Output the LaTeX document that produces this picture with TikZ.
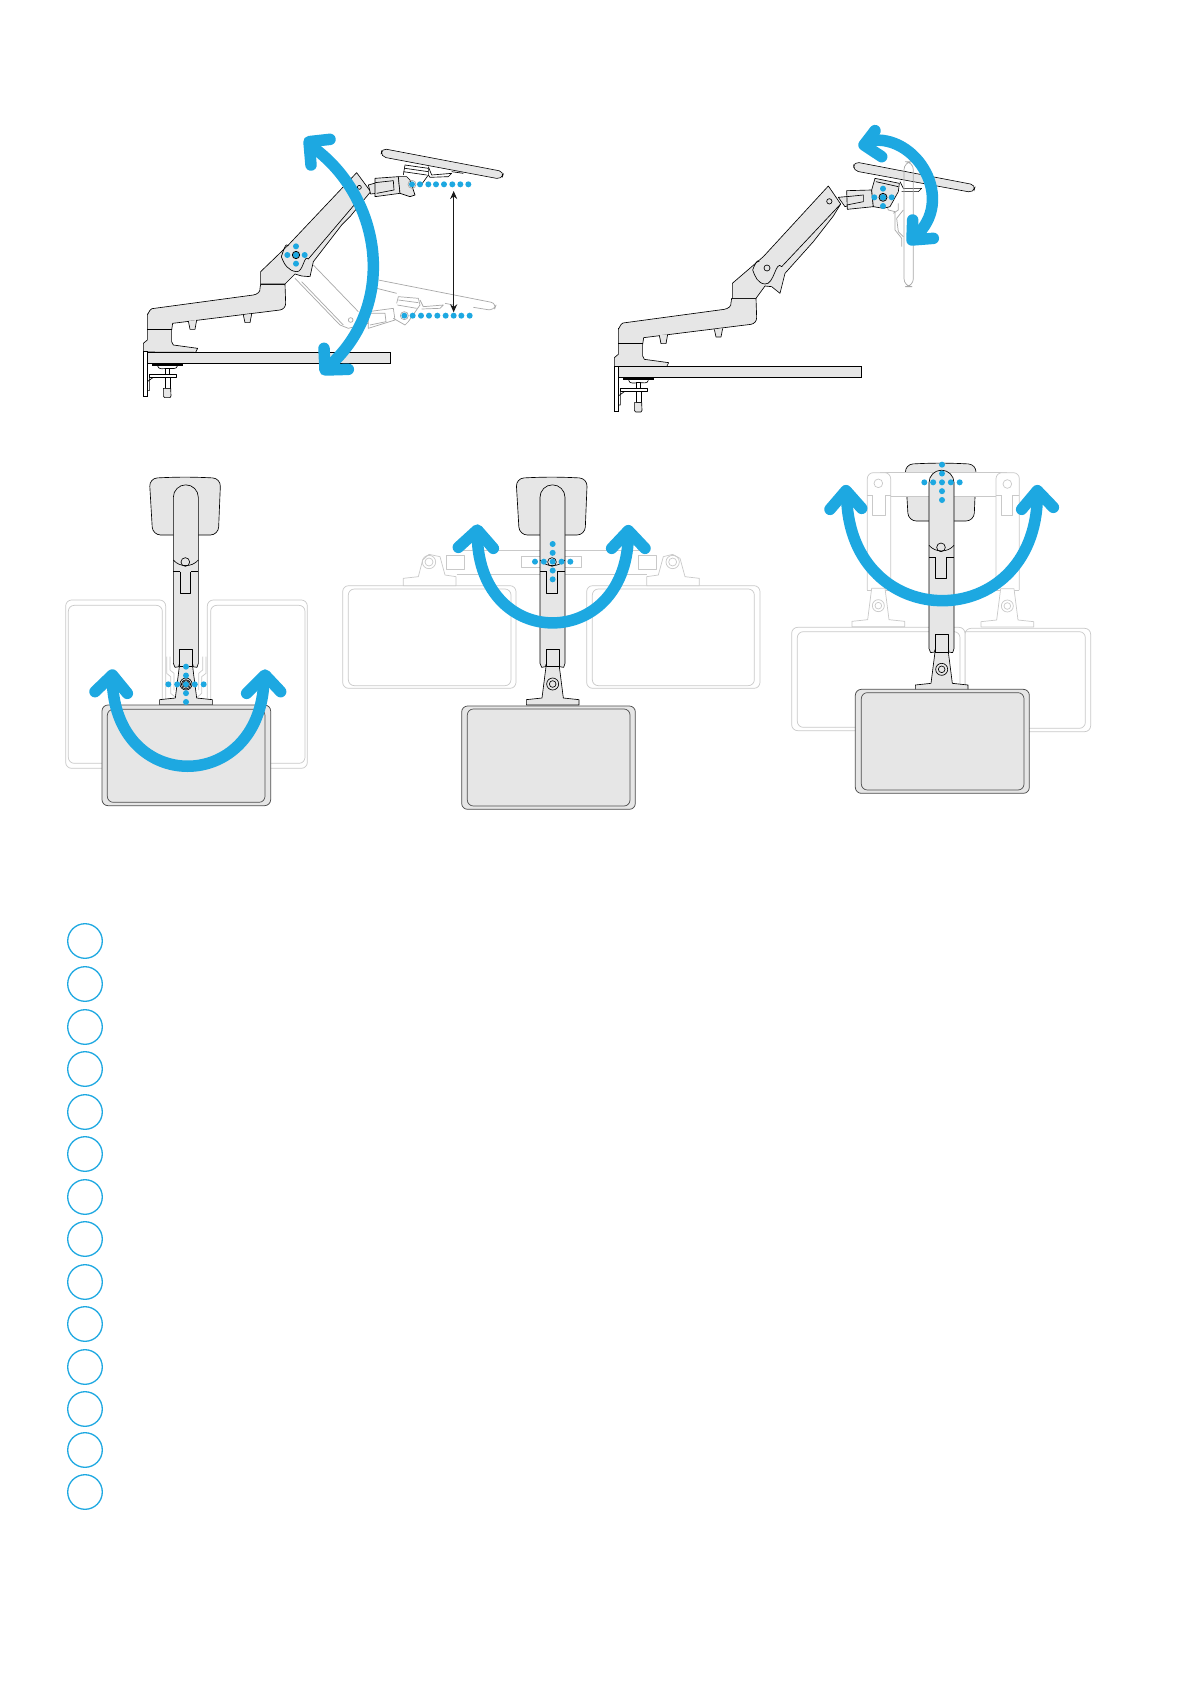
\documentclass[tikz,border=0pt]{standalone}
\usetikzlibrary{arrows.meta}
\definecolor{bluec}{HTML}{1DA8E1}
\definecolor{armg}{HTML}{E6E6E6}
\definecolor{ghostc}{HTML}{C9C9C9}
\definecolor{ghostd}{HTML}{A8A8A8}
\definecolor{monl}{HTML}{4D4D4D}
\newcommand{\crossdots}[3]{% cx cy step
  \foreach \k in {-1,1}{\fill[bluec] (#1+\k*#3,#2) circle[radius=9];\fill[bluec] (#1,#2+\k*#3) circle[radius=9];}
  \fill[bluec] (#1,#2) circle[radius=10];}
\newcommand{\bigcross}[3]{% five by five
  \foreach \k in {-2,-1,1,2}{\fill[bluec] (#1+\k*#3,#2) circle[radius=9];\fill[bluec] (#1,#2+\k*#3) circle[radius=9];}
  \fill[bluec] (#1,#2) circle[radius=9];}
\tikzset{
  ln/.style={draw=black,fill=armg,line width=.65pt,line join=round},
  lo/.style={draw=black,line width=.65pt,line join=round},
  mono/.style={draw=monl,fill=armg,line width=.75pt,rounded corners=6pt},
  ghost/.style={draw=ghostc,fill=white,line width=.7pt,line join=round},
  ghl/.style={draw=ghostc,line width=.7pt,line join=round},
  ghd/.style={draw=ghostd,line width=.7pt,line join=round},
  ghm/.style={draw=ghostc,fill=white,line width=.7pt,rounded corners=6pt},
  zz/.style={x=.33333pt,y=-.33333pt},
  bluearrow/.style={draw=bluec,line width=11.5pt,line cap=round,line join=round},
  ring/.style={draw=bluec,line width=1.3pt},
  sidebase/.pic={
    \path[ln] (70,726)--(70,700)--(82,690)--(82,612) to[out=-90,in=190] (96,596)--(400,555) to[out=10,in=-80] (420,535)--(422,522)--(495,522)--(497,580) to[out=-90,in=10] (480,600)--(158,640)--(155,660)--(155,695)--(160,705)--(233,715)--(227,727)--cycle;
    \draw[lo] (82,658)--(155,658);
    \draw[line width=1pt] (422,522)--(495,522);
    \path[ln] (205,633)--(210,658)--(225,658)--(230,630);
    \path[ln] (370,615)--(375,638)--(390,638)--(395,612);
    \path[draw=black,fill=armg,line width=.9pt] (82,727) rectangle (810,760);
    \path[draw=black,fill=white,line width=.8pt] (70,725) rectangle (82,860);
    \fill[black] (95,761) rectangle (188,768);
    \draw[lo] (113,768) to[out=-80,in=180] (145,775) to[out=0,in=-100] (172,768);
    \path[ln,fill=white] (135,775) rectangle (148,792);
    \path[ln,fill=white] (88,792) rectangle (170,802);
    \draw[lo] (88,802)--(88,842)--(82,842) (82,815)--(100,802);
    \path[ln,fill=white] (135,802) rectangle (150,835);
    \path[ln] (130,835)--(152,835)--(153,858)--(150,863)--(134,863)--(130,858)--cycle;
  },
  plate/.pic={
    \path[ln,rounded corners=8pt] (-110,-617) to[bend left=3] (104,-617)--(97,-447)--(-100,-447)--cycle;
  },
  armunit/.pic={
    \path[ln] (-38,-62)--(-38,-560) arc[start angle=180,end angle=360,radius=37.5]--(37,-62)--(33,-50)--(21,-52)--(21,-58)--(-21,-58)--(-21,-52)--(-33,-50)--cycle;
    \draw[lo] (-38,-372) to[out=-50,in=-130] (37,-372);
    \draw[lo] (-18,-337)--(-18,-272)--(14,-272)--(14,-337);
    \draw[lo] (-38,-337)--(-18,-337) (14,-337)--(37,-337);
    \draw[lo] (-2,-366) circle[radius=13];
  },
  bracketunit/.pic={
    \path[ln] (-79,63)--(-79,47)--(-32,42)--(-20,-52)--(20,-52)--(32,42)--(79,47)--(79,63)--cycle;
    \path[ln] (-20,-105) rectangle (20,-52);
    \draw[lo] (0,0) circle[radius=18];
    \draw[lo] (0,0) circle[radius=10];
  },
  ghostbracket/.pic={
    \path[ghost] (-79,63)--(-79,47)--(-32,42)--(-20,-52)--(20,-52)--(32,42)--(79,47)--(79,63)--cycle;
    \draw[ghl] (0,0) circle[radius=18];
    \draw[ghl] (0,0) circle[radius=10];
  }
}
\begin{document}
\begin{tikzpicture}[x=1pt,y=-1pt]
\useasboundingbox (0,0) rectangle (1190,1684);
\fill[white] (0,0) rectangle (1190,1684);

% ---- side view 1 ----
\begin{scope}[shift={(120,110)},zz]
  % ghost position
  \draw[ghd] (580,465)--(715,605);
  \draw[ghd] (525,505)--(660,645)--(685,655)--(745,640);
  \draw[ghd] (545,515)--(670,645);
  \draw[ghd] (692,630) circle[radius=7];
  \draw[ghd,rounded corners=6pt] (775,510)--(1130,580)--(1122,602)--(1060,592);
  \draw[ghd] (770,535)--(830,550);
  \draw[ghd] (745,605)--(820,595)--(825,630)--(745,655)--cycle;
  \draw[ghd] (745,610)--(795,610)--(798,635)--(750,645);
  \draw[ghd] (830,580)--(835,560)--(895,565)--(900,585)--(865,635)--(855,645)--(820,625);
  \draw[ghd] (835,570)--(895,578) (832,585)--(890,595);
  \draw[ghd] (900,570)--(910,590)--(970,585)--(960,595)--(905,597) (975,580)--(1000,585);
  \pic at (0,0) {sidebase};
  % main upper arm
  \path[ln] (422,522)--(422,485)--(505,405)--(710,188)--(752,245)--(690,320)--(665,345)--(580,455)--(570,500)--(545,498)--(525,492)--(495,522)--cycle;
  \draw[lo] (505,407) to[out=120,in=70] (484,440) to[out=-70,in=175] (530,485) to[out=-5,in=130] (565,447)--(705,282);
  \path[ln] (745,225)--(770,218)--(770,250)--(752,252)--cycle;
  \path[ln] (765,205)--(835,200)--(840,250)--(765,260)--cycle;
  \draw[lo] (765,218)--(820,212)--(822,240)--(770,250);
  \path[ln] (835,200)--(860,200)--(870,210)--(885,255)--(870,260)--(840,250)--cycle;
  \draw[lo] (850,195)--(855,165)--(925,175)--(925,195)--(900,230) (850,185)--(920,195) (855,175)--(925,185);
  \draw[lo] (925,170)--(935,195)--(995,190)--(985,200)--(930,202)--(925,195) (995,185)--(1030,190);
  \draw[lo] (718,232) circle[radius=6];
  \path[mono,draw=black,line width=.6pt,rounded corners=5pt] (785,115)--(1152,185)--(1145,208)--(783,140)--cycle;
  % dots
  \foreach \x in {876,900,925,948,972,997,1021,1045} \fill[bluec] (\x,223) circle[radius=9];
  \foreach \x in {853,878,903,927,952,977,1001,1024,1049} \fill[bluec] (\x,617) circle[radius=9];
  \crossdots{528}{435}{26}
  \draw[lo,line width=.8pt] (528,435) circle[radius=11];
  \draw[ghd] (853,617) circle[radius=12];
  \draw[ghd] (876,223) circle[radius=12];
  % black double arrow
  \coordinate (hTop) at (1001,243);
  \coordinate (hBot) at (1001,607);
  \draw[{Stealth[length=8pt,width=7pt]}-{Stealth[length=8pt,width=7pt]},line width=1.3pt,draw=black!90] (hTop)--(hBot);
  % blue arrow
  \draw[bluearrow] (583,115) .. controls (790,270) and (830,590) .. (625,770);
  \draw[bluearrow] (630,88)--(567,95)--(573,165);
  \draw[bluearrow] (612,715)--(615,780)--(685,778);
\end{scope}

% ---- side view 2 ----
\begin{scope}[shift={(591,124.33)},zz]
  \pic at (0,0) {sidebase};
\end{scope}
\begin{scope}[shift={(600,110)},zz]
  % ghost bracket lines
  \draw[ghd] (860,285)--(865,300)--(885,305)--(885,360)--(905,385)--(905,410);
  \draw[ghd] (895,280)--(895,300)--(880,310);
  \draw[ghd] (910,300)--(890,325)--(895,365)--(910,380);
  % arm
  \path[ln] (397,565)--(397,520)--(490,440)--(685,228)--(722,282)--(700,318)--(640,395)--(555,490)--(540,550)--(515,530)--(495,528)--(468,565)--cycle;
  \draw[lo] (478,455) to[out=120,in=70] (458,480) to[out=-70,in=175] (495,522) to[out=-5,in=130] (545,470)--(722,282);
  \draw[lo] (501,474) circle[radius=9];
  \draw[lo] (688,274) circle[radius=8];
  \path[ln] (715,262)--(790,255)--(790,275)--(735,290)--cycle;
  \path[ln] (740,242)--(815,240)--(820,290)--(742,298)--cycle;
  \draw[lo] (740,260)--(790,255)--(790,275)--(740,285);
  \path[ln] (815,240)--(825,205)--(898,220)--(895,245)--(870,290)--(850,295)--(820,290)--cycle;
  \draw[lo] (828,215)--(895,230);
  \draw[lo] (900,215)--(910,235)--(965,235)--(955,245)--(905,245);
  \path[mono,draw=black,line width=.6pt,rounded corners=5pt] (762,155)--(1127,225)--(1120,248)--(760,182)--cycle;
  % ghost vertical monitor
  \draw[ghd,rounded corners=8pt] (912,300)--(912,155)--(940,155)--(940,530)--(912,530)--(912,300);
  \crossdots{849}{262}{26}
  \draw[lo,line width=.8pt] (849,262) circle[radius=12];
  \draw[bluearrow] (810,92) .. controls (950,70) and (1070,270) .. (945,380);
  \draw[bluearrow] (825,62)--(792,105)--(845,140);
  \draw[bluearrow] (938,330)--(936,390)--(1000,385);
\end{scope}

% ---- front view 1 ----
\begin{scope}[shift={(50,460)},zz]
  \pic at (408,672) {plate};
  \path[ghm] (47,420) rectangle (347,925);
  \path[ghm] (472,420) rectangle (772,925);
  \draw[ghl,rounded corners=6pt] (55,436) rectangle (337,910);
  \draw[ghl,rounded corners=6pt] (482,436) rectangle (765,910);
  \draw[ghl] (350,590)--(350,640)--(362,650)--(362,700)--(380,715);
  \draw[ghl] (360,590)--(360,630)--(372,640)--(372,690);
  \draw[ghl] (468,590)--(468,640)--(455,650)--(455,700)--(438,715);
  \draw[ghl] (458,590)--(458,630)--(446,640)--(446,690);
  \pic at (408,672) {armunit};
  \pic at (408,672) {bracketunit};
  \path[mono] (156,735) rectangle (662,1037);
  \draw[monl,line width=.7pt,rounded corners=6pt] (172,748) rectangle (645,1027);
  \bigcross{408}{673}{26.5}
  \draw[lo] (408,673) circle[radius=14];
  \draw[bluearrow] (187,660) .. controls (195,1005) and (630,1005) .. (642,660);
  \draw[bluearrow] (135,695)--(187,645)--(232,700);
  \draw[bluearrow] (590,700)--(645,645)--(692,695);
\end{scope}

% ---- front view 2 ----
\begin{scope}[shift={(330,460)},zz]
  \pic at (668,672) {plate};
  \draw[ghl] (380,270)--(950,270) (380,343)--(950,343);
  \path[ghm] (38,377) rectangle (558,685);
  \path[ghm] (770,377) rectangle (1290,685);
  \draw[ghl,rounded corners=6pt] (55,387) rectangle (543,677);
  \draw[ghl,rounded corners=6pt] (787,387) rectangle (1273,677);
  \path[ghost] (220,377)--(220,355)--(265,350)--(278,300)--(297,283)--(330,290)--(345,345)--(378,350)--(378,377)--cycle;
  \draw[ghl] (297,306) circle[radius=20];
  \draw[ghl] (297,306) circle[radius=12];
  \path[ghost] (350,287) rectangle (403,327);
  \path[ghost] (950,377)--(950,350)--(985,345)--(1000,290)--(1028,283)--(1050,295)--(1065,350)--(1108,355)--(1108,377)--cycle;
  \draw[ghl] (1028,306) circle[radius=20];
  \draw[ghl] (1028,306) circle[radius=12];
  \path[ghost] (925,287) rectangle (978,327);
  \draw[ghl] (575,288) rectangle (755,322);
  \pic at (668,672) {armunit};
  \pic at (668,672) {bracketunit};
  \path[mono] (395,738) rectangle (916,1048);
  \draw[monl,line width=.7pt,rounded corners=6pt] (412,747) rectangle (900,1038);
  \bigcross{668}{305}{26.5}
  \draw[bluearrow] (442,230) .. controls (450,575) and (885,575) .. (895,230);
  \draw[bluearrow] (385,262)--(442,210)--(490,265);
  \draw[bluearrow] (845,265)--(895,212)--(945,265);
\end{scope}

% ---- front view 3 ----
\begin{scope}[shift={(780,450)},zz]
  \pic at (485,660) {plate};
  % ghost arms, white band
  \path[fill=white] (300,66) rectangle (680,138);
  \draw[ghl] (300,66)--(680,66) (330,138)--(650,138);
  \path[ghost,rounded corners=6pt] (262,420)--(262,68)--(332,68)--(332,420);
  \path[ghost,rounded corners=6pt] (648,420)--(648,68)--(718,68)--(718,420);
  \draw[ghl] (262,420)--(332,420) (648,420)--(718,420);
  \draw[ghl] (295,100) circle[radius=13];
  \draw[ghl] (682,102) circle[radius=13];
  \draw[ghl] (278,135)--(278,195)--(315,195)--(315,135) (262,135)--(278,135) (315,135)--(332,135);
  \draw[ghl] (665,135)--(665,195)--(698,195)--(698,135) (648,135)--(665,135) (698,135)--(718,135);
  \path[ghm] (555,535) rectangle (932,845);
  \draw[ghl,rounded corners=6pt] (555,545) -- (916,545) -- (916,835) -- (740,835);
  \path[ghm] (35,532) rectangle (555,842);
  \draw[ghl,rounded corners=6pt] (52,545) rectangle (540,832);
  \pic at (295,467) {ghostbracket};
  \pic at (682,468) {ghostbracket};
  \pic at (485,658) {armunit};
  \pic at (485,658) {bracketunit};
  \path[mono] (226,718) rectangle (748,1030);
  \draw[monl,line width=.7pt,rounded corners=6pt] (244,728) rectangle (732,1020);
  \bigcross{486}{97}{26.5}
  \draw[bluearrow] (200,140) .. controls (210,556) and (765,556) .. (772,140);
  \draw[bluearrow] (150,178)--(198,122)--(245,175);
  \draw[bluearrow] (725,178)--(772,122)--(820,172);
\end{scope}

% ---- empty numbered circles ----
\foreach \y in {941,984,1027,1069,1112,1154,1197,1239,1282,1324,1367,1409,1450,1492}
  \draw[ring] (85,\y) circle[radius=17.3];
\end{tikzpicture}
\end{document}
